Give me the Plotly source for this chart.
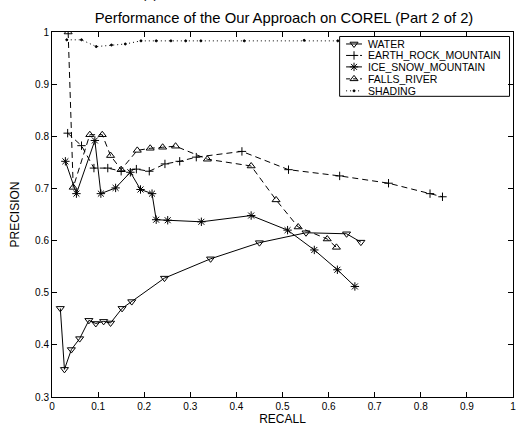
import plotly.graph_objects as go

# ---- data ----
water_x = [0.018, 0.027, 0.042, 0.060, 0.080, 0.095, 0.112, 0.127, 0.152, 0.173, 0.244, 0.344, 0.450, 0.551, 0.639, 0.670]
water_y = [0.470, 0.353, 0.391, 0.412, 0.447, 0.441, 0.445, 0.442, 0.470, 0.483, 0.528, 0.565, 0.596, 0.615, 0.613, 0.597]

earth_x = [0.034, 0.064, 0.091, 0.121, 0.150, 0.183, 0.211, 0.245, 0.277, 0.313, 0.412, 0.513, 0.624, 0.730, 0.820, 0.847]
earth_y = [0.806, 0.782, 0.739, 0.739, 0.733, 0.737, 0.733, 0.747, 0.752, 0.760, 0.771, 0.736, 0.724, 0.710, 0.690, 0.684]

ice_x = [0.029, 0.053, 0.093, 0.106, 0.138, 0.170, 0.192, 0.217, 0.226, 0.251, 0.324, 0.432, 0.511, 0.569, 0.619, 0.657]
ice_y = [0.752, 0.690, 0.792, 0.690, 0.701, 0.731, 0.698, 0.690, 0.640, 0.639, 0.636, 0.648, 0.620, 0.582, 0.544, 0.512]

falls_x = [0.035, 0.046, 0.082, 0.109, 0.127, 0.150, 0.185, 0.213, 0.240, 0.268, 0.337, 0.432, 0.486, 0.534, 0.597, 0.617]
falls_y = [1.000, 0.702, 0.803, 0.803, 0.763, 0.736, 0.773, 0.777, 0.779, 0.781, 0.756, 0.743, 0.678, 0.626, 0.603, 0.587]

shading_x = [0.032, 0.064, 0.096, 0.129, 0.159, 0.193, 0.226, 0.258, 0.290, 0.323, 0.417, 0.547, 0.620]
shading_y = [0.985, 0.985, 0.972, 0.975, 0.977, 0.983, 0.983, 0.983, 0.983, 0.983, 0.983, 0.984, 0.983]

series_names = ["WATER", "EARTH_ROCK_MOUNTAIN", "ICE_SNOW_MOUNTAIN", "FALLS_RIVER", "SHADING"]

x_ticks = [0, 0.1, 0.2, 0.3, 0.4, 0.5, 0.6, 0.7, 0.8, 0.9, 1]
x_tick_labels = ["0", "0.1", "0.2", "0.3", "0.4", "0.5", "0.6", "0.7", "0.8", "0.9", "1"]
y_ticks = [0.3, 0.4, 0.5, 0.6, 0.7, 0.8, 0.9, 1]
y_tick_labels = ["0.3", "0.4", "0.5", "0.6", "0.7", "0.8", "0.9", "1"]

FONT = "Liberation Sans, Arial, Helvetica, sans-serif"

# ---- styles ----
styles = [
    dict(symbol="triangle-down-open", dash="solid", size=7),
    dict(symbol="cross-thin-open", dash="6px,4px", size=6),
    dict(symbol="asterisk-open", dash="solid", size=7),
    dict(symbol="triangle-up-open", dash="6px,4px", size=7),
    dict(symbol="circle", dash="1px,3px", size=2),
]
series = [(water_x, water_y), (earth_x, earth_y), (ice_x, ice_y),
          (falls_x, falls_y), (shading_x, shading_y)]

W, H = 521, 426
ML, MR, MT, MB = 52, 5, 32, 28
PW, PH = W - ML - MR, H - MT - MB

fig = go.Figure()

for name, (sx, sy), st in zip(series_names, series, styles):
    fig.add_trace(go.Scatter(
        x=sx, y=sy, name=name, mode="lines+markers", showlegend=False,
        line=dict(color="black", width=1, dash=st["dash"]),
        marker=dict(symbol=st["symbol"], size=st["size"], color="black",
                    line=dict(color="black", width=1)),
    ))

# ---- compact legend (MATLAB-style) drawn on an overlay axis in paper-like units ----
def px_x(p):
    return (p - ML) / PW

def px_y(p):
    return 1 - (p - MT) / PH

leg_left, leg_right, leg_top, leg_bottom = 341.5, 512.5, 36.5, 96.5
row_y = [44, 55.5, 67, 79, 91]
line_x0, line_x1, text_x = 348, 364, 368

shapes = [dict(type="rect", xref="paper", yref="paper",
               x0=px_x(leg_left), x1=px_x(leg_right),
               y0=px_y(leg_bottom), y1=px_y(leg_top),
               line=dict(color="black", width=1), fillcolor="white", layer="below")]
annotations = []
for name, st, ry in zip(series_names, styles, row_y):
    fig.add_trace(go.Scatter(
        x=[px_x(line_x0), px_x(line_x1)], y=[px_y(ry), px_y(ry)],
        xaxis="x2", yaxis="y2", mode="lines", showlegend=False, hoverinfo="skip",
        line=dict(color="black", width=1, dash=st["dash"] if st["dash"] != "6px,4px" else "4px,3px"),
    ))
    fig.add_trace(go.Scatter(
        x=[px_x((line_x0 + line_x1) / 2)], y=[px_y(ry)],
        xaxis="x2", yaxis="y2", mode="markers", showlegend=False, hoverinfo="skip",
        marker=dict(symbol=st["symbol"], size=st["size"], color="black",
                    line=dict(color="black", width=1)),
    ))
    annotations.append(dict(text=name, xref="paper", yref="paper",
                            x=px_x(text_x), y=px_y(ry), xanchor="left", yanchor="middle",
                            showarrow=False, font=dict(family=FONT, size=10.5, color="black")))

annotations.append(dict(text="(b)", xref="paper", yref="paper", x=px_x(141),
                        y=1 + 29 / PH, yanchor="bottom", showarrow=False,
                        font=dict(family=FONT, size=13, color="black")))

axis_common = dict(
    showgrid=False, zeroline=False, showline=True, linecolor="black",
    linewidth=1, mirror="ticks", ticks="inside", ticklen=5,
    tickcolor="black", tickwidth=1,
    tickfont=dict(family=FONT, size=10, color="black"),
)

fig.update_layout(
    width=W, height=H,
    margin=dict(l=ML, r=MR, t=MT, b=MB),
    paper_bgcolor="white", plot_bgcolor="white",
    font=dict(family=FONT, size=10, color="black"),
    title=dict(text="Performance of the Our Approach on COREL (Part 2 of 2)",
               x=(ML + PW / 2) / W, xanchor="center", y=1 - 18 / H, yanchor="middle",
               font=dict(family=FONT, size=14.8, color="black")),
    showlegend=False,
    xaxis=dict(range=[0, 1], tickvals=x_ticks, ticktext=x_tick_labels,
               title=dict(text="RECALL", font=dict(family=FONT, size=12, color="black"), standoff=1),
               **axis_common),
    yaxis=dict(range=[0.3, 1], tickvals=y_ticks, ticktext=y_tick_labels,
               title=dict(text="PRECISION", font=dict(family=FONT, size=12, color="black"), standoff=12),
               **axis_common),
    xaxis2=dict(overlaying="x", range=[0, 1], visible=False, fixedrange=True),
    yaxis2=dict(overlaying="y", range=[0, 1], visible=False, fixedrange=True),
    shapes=shapes,
    annotations=annotations,
)

fig.write_html("out.html")
